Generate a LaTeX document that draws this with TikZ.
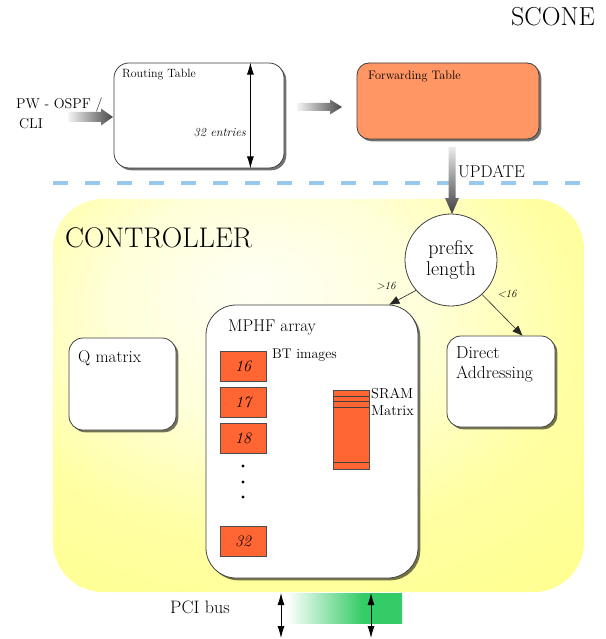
\documentclass[tikz,border=0pt]{standalone}
\usetikzlibrary{shadows,arrows.meta,calc}
\definecolor{fwd}{RGB}{255,150,100}
\definecolor{btc}{RGB}{255,102,51}
\definecolor{dashblue}{RGB}{150,200,240}
\definecolor{pcigreen}{RGB}{51,204,102}
\pgfdeclareradialshading{ctrlshade}{\pgfpoint{-6bp}{14bp}}{color(0bp)=(yellow!4);color(15bp)=(yellow!15);color(28bp)=(yellow!36);color(40bp)=(yellow!43);color(80bp)=(yellow!43)}
\pgfdeclarehorizontalshading{pcishade}{100bp}{color(0bp)=(white);color(25bp)=(white);color(58bp)=(pcigreen);color(100bp)=(pcigreen)}
\newcommand\myfs[2]{\fontsize{#1}{#2}\selectfont}
\begin{document}
\begin{tikzpicture}[x=1pt,y=-1pt,
  box/.style={draw=black!75, line width=0.8pt, rounded corners=#1,
    drop shadow={shadow xshift=2.3pt,shadow yshift=-2.3pt,opacity=0.55,fill=black}},
  txt/.style={inner sep=0pt, anchor=west, font=\myfs{#1}{#1}},
  btbox/.style={draw=black!70, line width=0.6pt, fill=btc, minimum width=46pt,
    minimum height=30pt, inner sep=0pt, font=\myfs{16}{18}\itshape},
  conn/.style={-{Triangle[length=10pt,width=8pt]}, line width=0.6pt, black!85},
  dbl/.style={{Latex[length=12pt,width=7pt]}-{Latex[length=12pt,width=7pt]}, line width=0.8pt},
  dotn/.style={circle, fill=black, inner sep=0pt, minimum size=3.4pt}
]
\useasboundingbox (0,0) rectangle (605,639);
\fill[white] (0,0) rectangle (605,639);

% title
\node[inner sep=0pt, font=\myfs{26}{28}] (scone) at (553,17) {SCONE};

% top tables
\node[box=15pt, fill=white, minimum width=170pt, minimum height=105pt] (rt) at (199,115.5) {};
\node[txt=12] (rtl) at (122,75) {Routing Table};
\draw[dbl] ([xshift=-34pt]rt.north east) -- ([xshift=-34pt]rt.south east);
\node[inner sep=0pt, anchor=east, font=\myfs{12.3}{13}\itshape] (ent) at (246,133) {32 entries};

\node[box=12pt, fill=fwd, minimum width=182pt, minimum height=76pt] (ft) at (448,101) {};
\node[txt=12.3] (ftl) at (368,76) {Forwarding Table};

\node[inner sep=0pt, anchor=north west, align=left, font=\myfs{14.2}{20}] (pw) at (16,98) {PW - OSPF /\\\hspace{3pt}CLI};

% dashed separator
\coordinate (d1) at (53,183);
\coordinate (d2) at (586,183);
\draw[dashblue, line width=3.5pt, dash pattern=on 15pt off 17pt] (d1) -- (d2);

% controller
\node[shade, shading=ctrlshade, rounded corners=50pt, minimum width=531pt, minimum height=393pt, inner sep=0pt] (ctrl) at (318.5,395.5) {};
\node[txt=28.4] (ctl) at (65,238) {CONTROLLER};

% gradient arrows
\shade[left color=black!4, right color=black!72]
  (68,112) -- (101,112) -- (101,108.5) -- (113,117) -- (101,125.5) -- (101,122) -- (68,122) -- cycle;
\shade[left color=black!4, right color=black!72]
  (297,103) -- (330,103) -- (330,99.5) -- (342,107) -- (330,114.5) -- (330,111) -- (297,111) -- cycle;
\shade[top color=black!8, bottom color=black!75]
  (448.5,147) -- (455.5,147) -- (455.5,198) -- (459,198) -- (452,214) -- (445,198) -- (448.5,198) -- cycle;
\node[txt=17] (upd) at (458,172) {UPDATE};

\node[circle, draw=black!75, line width=0.8pt, fill=white, minimum size=92pt, inner sep=0pt,
  align=center, font=\myfs{20}{21}] (pl) at (451,260) {prefix\\length};

\node[box=30pt, fill=white, minimum width=212pt, minimum height=273pt] (mphf) at (312,441.5) {};
\node[txt=17] (mphfl) at (228,327) {MPHF array};

\node[box=14pt, fill=white, minimum width=107pt, minimum height=92pt] (qm) at (122.5,384) {};
\node[txt=17] (qml) at (78,358) {Q matrix};

\node[box=14pt, fill=white, minimum width=108pt, minimum height=91pt] (da) at (501,381.5) {};
\node[inner sep=0pt, anchor=north west, align=left, font=\myfs{17.5}{20}] (dal) at (456,346) {Direct\\Addressing};

\draw[conn] (pl.221) -- ([xshift=-29pt]mphf.north east);
\draw[conn] (pl.312) -- ([xshift=-33pt]da.north east);
\node[inner sep=0pt, font=\myfs{11}{12}\itshape] (gt) at (386,286) {>16};
\node[inner sep=0pt, font=\myfs{11}{12}\itshape] (lt) at (507,294) {<16};

% BT images
\node[btbox] (b16) at (243,366) {16};
\node[btbox] (b17) at (243,402) {17};
\node[btbox] (b18) at (243,438.5) {18};
\node[btbox] (b32) at (243,541) {32};
\node[txt=14] (bti) at (272,355) {BT images};
\node[dotn] (dt1) at (243,466) {};
\node[dotn] (dt2) at (243,482) {};
\node[dotn] (dt3) at (243,497) {};

% SRAM
\node[draw=black!70, line width=0.6pt, fill=btc, minimum width=36pt, minimum height=79pt, inner sep=0pt] (sram) at (351,429.5) {};
\foreach \d in {7,12,18} {
  \draw[black!75, line width=0.6pt] ([yshift=-\d pt]sram.north west) -- ([yshift=-\d pt]sram.north east);
}
\draw[black!75, line width=0.6pt] ([yshift=7pt]sram.south west) -- ([yshift=7pt]sram.south east);
\node[inner sep=0pt, anchor=north west, align=left, font=\myfs{14.5}{17}] (sraml) at (371,388) {SRAM\\Matrix};

% PCI bus
\node[txt=18] (pcil) at (170,607) {PCI bus};
\node[shade, shading=pcishade, minimum width=115pt, minimum height=30pt, inner sep=0pt] (pci) at (344.5,608) {};
\coordinate (p1a) at (281,593);
\coordinate (p1b) at (281,638);
\coordinate (p2a) at (371,593);
\coordinate (p2b) at (371,638);
\draw[dbl] (p1a) -- (p1b);
\draw[dbl] (p2a) -- (p2b);
\end{tikzpicture}
\end{document}
